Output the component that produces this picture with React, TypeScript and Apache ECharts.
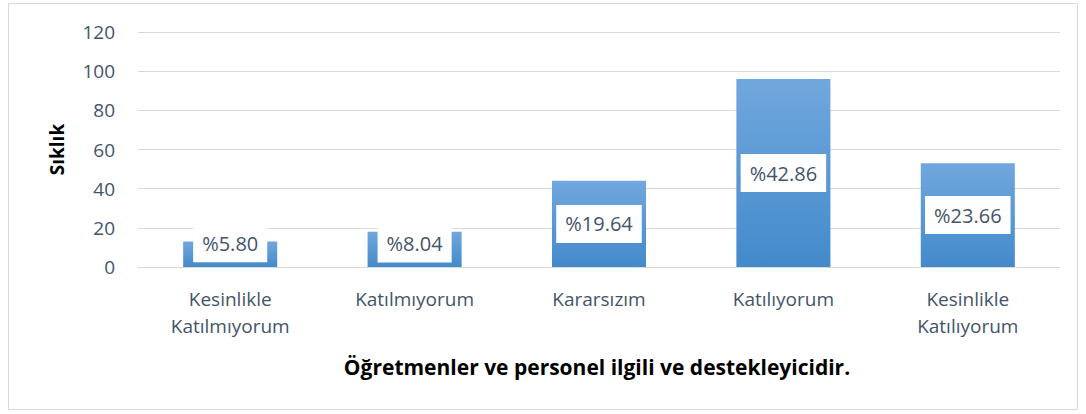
import React, { useEffect, useRef } from "react";
import * as echarts from "echarts";

const categories = ["Kesinlikle\nKatılmıyorum", "Katılmıyorum", "Kararsızım", "Katılıyorum", "Kesinlikle\nKatılıyorum"];
const values = [13, 18, 44, 96, 53];
const percentLabels = ["%5.80", "%8.04", "%19.64", "%42.86", "%23.66"];
const yTicks = { min: 0, max: 120, interval: 20 };
const yTitle = "Sıklık";
const xTitle = "Öğretmenler ve personel ilgili ve destekleyicidir.";

const FONT = "'Open Sans', 'Noto Sans', sans-serif";
const TXT = "#44546A";

export default function App() {
  const ref = useRef<HTMLDivElement>(null);
  useEffect(() => {
    if (!ref.current) return;
    const chart = echarts.init(ref.current, null, { renderer: "svg" });
    const labelOffsets: Record<number, number[]> = { 0: [0, -11], 1: [0, -6] };
    chart.setOption({
      animation: false,
      textStyle: { fontFamily: FONT },
      grid: { left: 138, right: 26, top: 32, bottom: 147 },
      graphic: [
        {
          type: "rect",
          shape: { x: 8.5, y: 3.5, width: 1069, height: 406 },
          style: { fill: "none", stroke: "#d9d9d9", lineWidth: 1 },
          silent: true,
        },
        {
          type: "text",
          x: 597,
          y: 367,
          style: {
            text: xTitle,
            fontFamily: FONT,
            fontSize: 21,
            fontWeight: "bold",
            fill: "#000",
            align: "center",
            verticalAlign: "middle",
          },
        },
      ],
      xAxis: {
        type: "category",
        data: categories,
        axisLine: { lineStyle: { color: "#d9d9d9" } },
        axisTick: { show: false },
        axisLabel: {
          color: TXT,
          fontFamily: FONT,
          fontSize: 19,
          lineHeight: 27,
          margin: 18,
          interval: 0,
        },
      },
      yAxis: {
        type: "value",
        min: yTicks.min,
        max: yTicks.max,
        interval: yTicks.interval,
        name: yTitle,
        nameLocation: "middle",
        nameGap: 72,
        nameTextStyle: { color: "#000", fontWeight: "bold", fontSize: 19, fontFamily: FONT },
        axisLine: { show: false },
        axisTick: { show: false },
        splitLine: { lineStyle: { color: "#d9d9d9", width: 1 } },
        axisLabel: { color: TXT, fontFamily: FONT, fontSize: 19, margin: 23 },
      },
      series: [
        {
          type: "bar",
          barWidth: "51%",
          data: values.map((v, i) => ({
            value: v,
            label: {
              show: true,
              position: "inside",
              formatter: percentLabels[i],
              offset: labelOffsets[i] || [0, 0],
            },
          })),
          itemStyle: {
            color: new echarts.graphic.LinearGradient(0, 0, 0, 1, [
              { offset: 0, color: "#71A7DD" },
              { offset: 1, color: "#438ACB" },
            ]),
          },
          label: {
            show: true,
            position: "inside",
            color: TXT,
            fontFamily: FONT,
            fontSize: 20,
            lineHeight: 22,
            backgroundColor: "#fff",
            padding: [8, 9, 8, 9],
          },
        },
      ],
    });
    return () => chart.dispose();
  }, []);
  return (
    <div
      ref={ref}
      style={{ position: "absolute", left: 0, top: 0, width: 1086, height: 414 }}
    />
  );
}
